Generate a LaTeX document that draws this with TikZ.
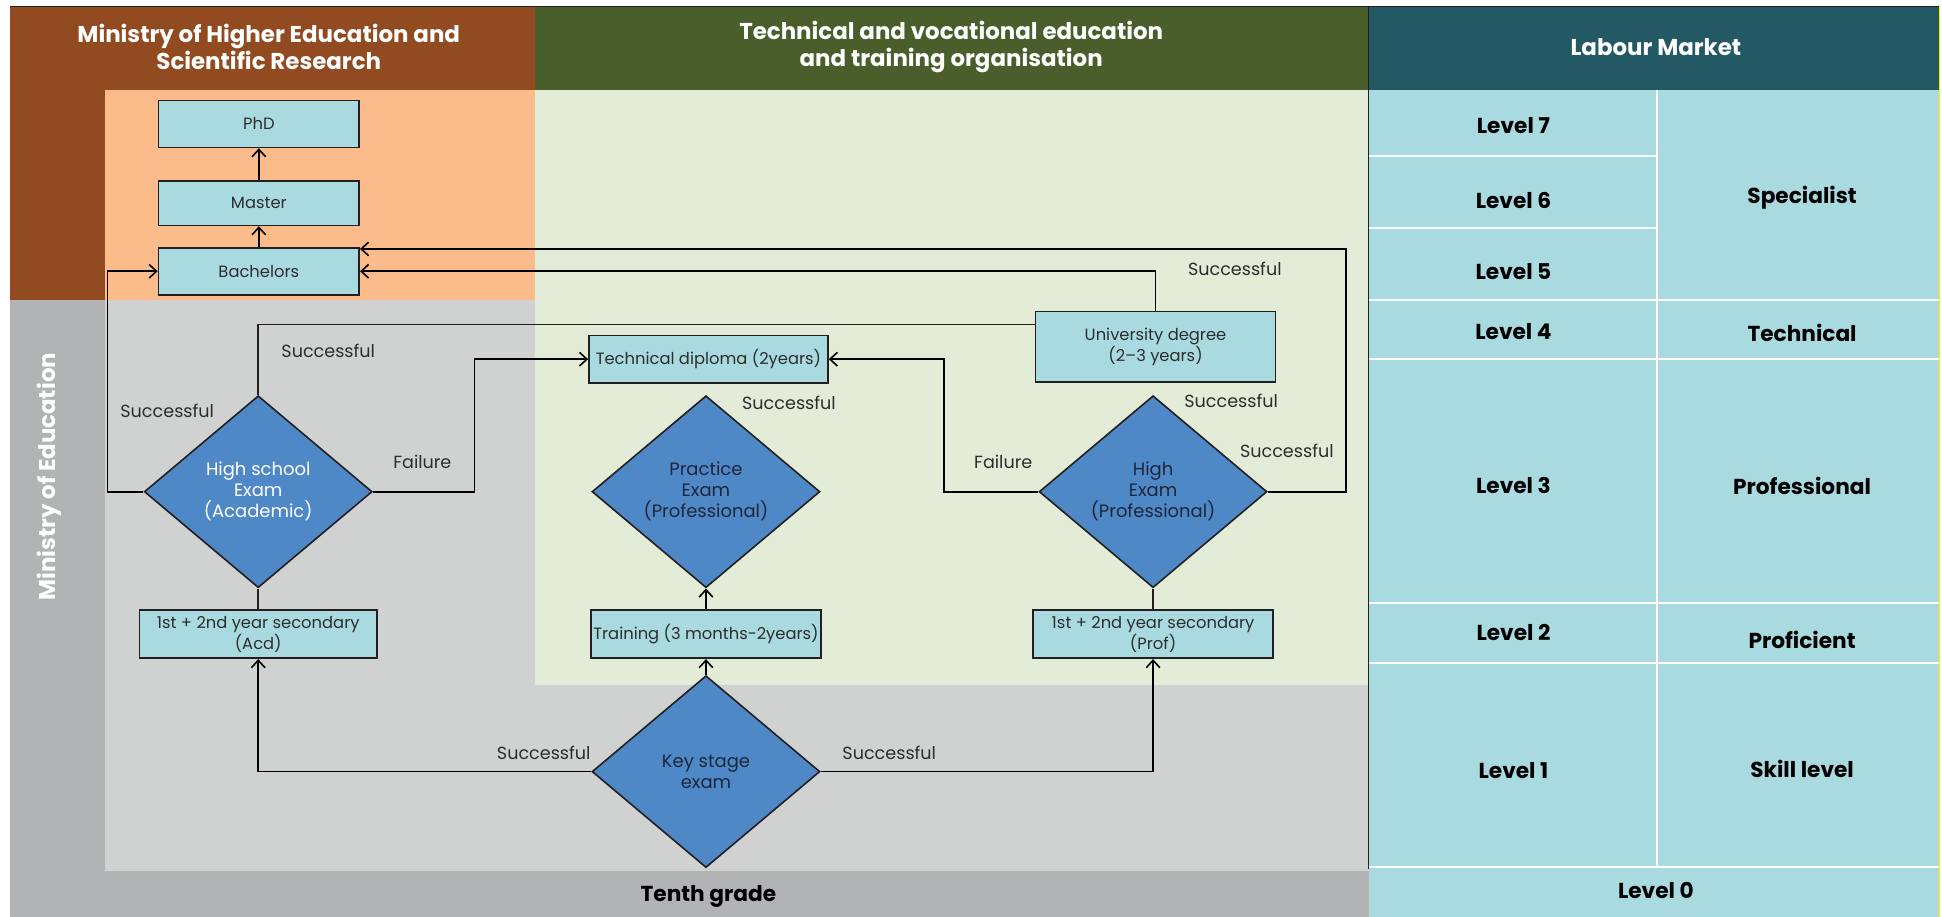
\documentclass[tikz,border=0pt]{standalone}
\usepackage{fontspec}
\setmainfont{Poppins}
\usepackage{tikz}
\usetikzlibrary{shapes.geometric,arrows.meta}

\definecolor{brownhd}{RGB}{146,74,33}
\definecolor{greenhd}{RGB}{74,94,43}
\definecolor{tealhd}{RGB}{35,89,101}
\definecolor{peach}{RGB}{251,187,139}
\definecolor{palegreen}{RGB}{227,236,215}
\definecolor{lightgray}{RGB}{208,210,209}
\definecolor{midgray}{RGB}{178,179,181}
\definecolor{cellblue}{RGB}{169,218,224}
\definecolor{exblue}{RGB}{79,136,199}
\definecolor{boxline}{RGB}{35,31,32}
\definecolor{labgray}{RGB}{45,45,45}
\definecolor{extext}{RGB}{30,38,58}

\begin{document}
\begin{tikzpicture}[x=1pt,y=-1pt,
  box/.style={draw=boxline, line width=1.3pt, fill=cellblue, minimum width=162pt, minimum height=38pt, inner sep=2pt, align=center, text=labgray, font=\fontsize{13.2}{15.5}\selectfont},
  exam/.style={diamond, draw=boxline, line width=1.3pt, fill=exblue, minimum width=184pt, minimum height=155pt, inner sep=0pt, align=center, text=extext, font=\fontsize{14.5}{17}\selectfont},
  note/.style={text=labgray, font=\fontsize{14.2}{16}\selectfont},
  head/.style={text=white, align=center, font=\bfseries\fontsize{18.5}{22}\selectfont},
  lvl/.style={text=black, font=\bfseries\fontsize{17.5}{20}\selectfont},
  arr/.style={-{Straight Barb[length=6pt,width=11pt]}, line width=1.3pt},
  conn/.style={line width=1.3pt, draw=boxline}]
\fill[white] (0,0) rectangle (1568,740);
\useasboundingbox (0,0) rectangle (1568,740);
% bands
\fill[brownhd] (8,5) rectangle (432,242);
\fill[greenhd] (432,5) rectangle (1105,73);
\fill[tealhd] (1105,5) rectangle (1566,73);
\fill[peach] (85,73) rectangle (432,242);
\fill[midgray] (8,242) rectangle (1105,740);
\fill[lightgray] (85,242) rectangle (1105,703);
\fill[palegreen] (432,73) rectangle (1105,553);
\fill[cellblue] (1105,73) rectangle (1566,740);
\draw[white, line width=1.5pt] (1338,73) -- (1338,700);
\foreach \yy in {126,184}
  \draw[white, line width=1.5pt] (1105,\yy) -- (1338,\yy);
\foreach \yy in {242,290,487,535,700}
  \draw[white, line width=1.5pt] (1105,\yy) -- (1566,\yy);
\draw[boxline, line width=1.2pt] (1105,5) -- (1105,702);
\draw[boxline, line width=1pt] (8,5) -- (1566,5);
\draw[yellow, line width=1.5pt] (1566,5) -- (1566,740);

\node[head] (moh) at (217,38) {Ministry of Higher Education and\\Scientific Research};
\node[head] (tvt) at (768,38) {Technical and vocational education\\and training organisation};
\node[head] (lab) at (1337,38) {Labour Market};
\node[head, rotate=90] (moe) at (40,385) {Ministry of Education};
\node[lvl] (tenth) at (572,724) {Tenth grade};

\node[lvl] (l7) at (1222,101) {Level 7};
\node[lvl] (l6) at (1222,162) {Level 6};
\node[lvl] (l5) at (1222,219) {Level 5};
\node[lvl] (l4) at (1222,268) {Level 4};
\node[lvl] (l3) at (1222,392) {Level 3};
\node[lvl] (l2) at (1222,511) {Level 2};
\node[lvl] (l1) at (1222,622) {Level 1};
\node[lvl] (l0) at (1337,719) {Level 0};
\node[lvl] (spec) at (1455,160) {Specialist};
\node[lvl] (tech) at (1455,269) {Technical};
\node[lvl] (pro) at (1455,392) {Professional};
\node[lvl] (prf) at (1455,517) {Proficient};
\node[lvl] (skl) at (1455,621) {Skill level};

\node[box] (phd) at (209,100) {PhD};
\node[box, minimum height=36pt] (master) at (209,164) {Master};
\node[box] (bach) at (209,219) {Bachelors};
\node[exam, text=white] (hs) at (208.5,397) {High school\\Exam\\(Academic)};
\node[box, minimum width=192pt, minimum height=39pt] (acd) at (208.5,512) {1st + 2nd year secondary\\(Acd)};
\node[exam] (ks) at (570,623) {Key stage\\exam};
\node[box, minimum width=185pt, minimum height=39pt] (train) at (570,512) {Training (3 months-2years)};
\node[exam] (prac) at (570,397) {Practice\\Exam\\(Professional)};
\node[box, minimum width=193pt] (tdip) at (572,290) {Technical diploma (2years)};
\node[box, minimum width=194pt, minimum height=57pt] (uni) at (933,280) {University degree\\(2--3 years)};
\node[exam] (hp) at (931,397) {High\\Exam\\(Professional)};
\node[box, minimum width=194pt, minimum height=39pt] (prof) at (931,512) {1st + 2nd year secondary\\(Prof)};

\node[note] (s1) at (265,283) {Successful};
\node[note] (s2) at (135,332) {Successful};
\node[note] (f1) at (341,373) {Failure};
\node[note] (s3) at (439,608) {Successful};
\node[note] (s4) at (718,608) {Successful};
\node[note] (s5) at (637,325) {Successful};
\node[note] (s6) at (997,217) {Successful};
\node[note] (s7) at (994,324) {Successful};
\node[note] (s8) at (1039,364) {Successful};
\node[note] (f2) at (810,373) {Failure};

\draw[arr] (master) -- (phd);
\draw[arr] (bach) -- (master);
\draw[arr] (hs.west) -- ++(-29,0) |- (bach.west);
\draw[arr] (hs.east) -- ++(82,0) |- (tdip.west);
\draw[conn] (hs.north) -- (hs.north |- 0,262) -- (uni.west |- 0,262);
\draw[arr] (uni.north) |- (bach.east);
\draw[arr] (hp.east) -- ++(63,0) |- ([yshift=18pt]bach.east);
\draw[arr] (hp.west) -- ++(-76,0) |- (tdip.east);
\draw[conn] (acd) -- (hs);
\draw[conn] (prof) -- (hp);
\draw[arr] (ks) -- (train);
\draw[arr] (train) -- (prac);
\draw[arr] (ks.west) -| (acd.south);
\draw[arr] (ks.east) -| (prof.south);
\end{tikzpicture}
\end{document}
